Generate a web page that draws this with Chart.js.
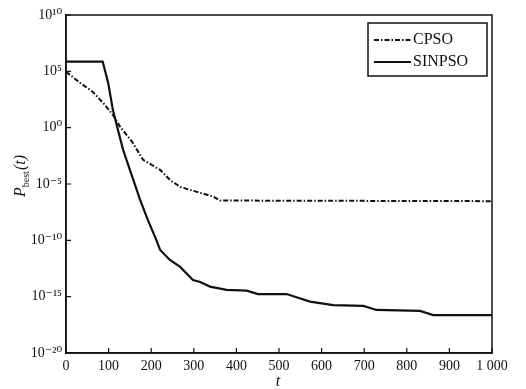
<!DOCTYPE html>
<html>
<head>
<meta charset="utf-8">
<script src="https://cdn.jsdelivr.net/npm/chart.js@4/dist/chart.umd.min.js"></script>
<style>
html,body{margin:0;padding:0;background:#fff;}
#wrap{width:526px;height:389px;position:relative;}
</style>
</head>
<body>
<div id="wrap"><canvas id="c"></canvas></div>
<script>
// iteration t values and best fitness values
const tCPSO = [0, 33, 63, 87, 110, 127, 157, 181, 221, 244, 268, 307, 346, 362, 1000];
const vCPSO = [9.1e4, 9.5e3, 1.5e3, 1.6e2, 1.4e1, 1.2, 4.5e-2, 1.4e-3, 1.8e-4, 2.3e-5, 5.5e-6, 2.0e-6, 7.6e-7, 3.4e-7, 3.0e-7];

const tSINPSO = [0, 86, 99, 110, 122, 134, 150, 174, 192, 209, 221, 244, 268, 298, 315, 338, 377, 424, 451, 518, 541, 573, 627, 698, 729, 831, 862, 1000];
const vSINPSO = [7.4e5, 7.4e5, 9.5e3, 3.8e1, 6.3e-1, 1.1e-2, 1.8e-4, 3.9e-7, 6.5e-9, 2.0e-10, 1.4e-11, 1.8e-12, 4.4e-13, 3.0e-14, 2.0e-14, 7.8e-15, 4.0e-15, 3.4e-15, 1.7e-15, 1.7e-15, 8.9e-16, 3.6e-16, 1.8e-16, 1.5e-16, 6.6e-17, 5.4e-17, 2.3e-17, 2.3e-17];

const seriesNames = ['CPSO', 'SINPSO'];
const xTicks = [0, 100, 200, 300, 400, 500, 600, 700, 800, 900, 1000];
const xTickLabels = ['0', '100', '200', '300', '400', '500', '600', '700', '800', '900', '1 000'];
const yExponents = [-20, -15, -10, -5, 0, 5, 10];

const SUP = {'0':'⁰','1':'¹','2':'²','3':'³','4':'⁴','5':'⁵','6':'⁶','7':'⁷','8':'⁸','9':'⁹','-':'⁻'};
function supText(n){ return String(n).split('').map(ch => SUP[ch]).join(''); }

const INK = '#111';
const SERIF = '"Liberation Serif", "DejaVu Serif", serif';

const frameAndTicks = {
  id: 'frameAndTicks',
  afterDatasetsDraw(chart) {
    const {ctx, chartArea: a, scales} = chart;
    ctx.save();
    ctx.strokeStyle = INK;
    ctx.lineWidth = 1.5;
    ctx.strokeRect(a.left, a.top, a.right - a.left, a.bottom - a.top);
    ctx.lineWidth = 1.2;
    ctx.beginPath();
    scales.x.ticks.forEach(t => {
      const x = scales.x.getPixelForValue(t.value);
      ctx.moveTo(x, a.bottom); ctx.lineTo(x, a.bottom - 5);
    });
    scales.y.ticks.forEach(t => {
      const y = scales.y.getPixelForValue(t.value);
      ctx.moveTo(a.left, y); ctx.lineTo(a.left + 5, y);
    });
    ctx.stroke();

    // legend
    const bx = 368, by = 23, bw = 119, bh = 53;
    ctx.fillStyle = '#fff';
    ctx.fillRect(bx, by, bw, bh);
    ctx.lineWidth = 1.5;
    ctx.strokeRect(bx, by, bw, bh);
    chart.data.datasets.forEach((ds, i) => {
      const y = by + 17 + i * 22;
      ctx.beginPath();
      ctx.setLineDash(ds.borderDash || []);
      ctx.lineWidth = ds.borderWidth;
      ctx.strokeStyle = ds.borderColor;
      ctx.moveTo(bx + 6, y); ctx.lineTo(bx + 43, y);
      ctx.stroke();
      ctx.setLineDash([]);
      ctx.fillStyle = INK;
      ctx.font = '16px ' + SERIF;
      ctx.textBaseline = 'middle';
      ctx.textAlign = 'left';
      ctx.fillText(ds.label, bx + 45, y);
    });

    // axis titles
    ctx.fillStyle = INK;
    ctx.textBaseline = 'alphabetic';
    ctx.font = 'italic 16px ' + SERIF;
    ctx.textAlign = 'center';
    ctx.fillText('t', (a.left + a.right) / 2 - 1, 386);

    ctx.save();
    ctx.translate(25, 197);
    ctx.rotate(-Math.PI / 2);
    ctx.textAlign = 'left';
    let x = 0;
    ctx.font = 'italic 16px ' + SERIF;
    ctx.fillText('P', 0, 0); x += ctx.measureText('P').width;
    ctx.font = '10px ' + SERIF;
    ctx.fillText('best', x, 4); x += ctx.measureText('best').width + 1;
    ctx.font = 'italic 16px ' + SERIF;
    ctx.fillText('(t)', x, 0);
    ctx.restore();

    ctx.restore();
  }
};

new Chart(document.getElementById('c'), {
  type: 'line',
  data: {
    datasets: [
      {
        label: seriesNames[0],
        data: tCPSO.map((t, i) => ({x: t, y: vCPSO[i]})),
        borderColor: INK, borderWidth: 2, borderDash: [5, 2, 1.5, 2],
        pointRadius: 0, tension: 0, fill: false
      },
      {
        label: seriesNames[1],
        data: tSINPSO.map((t, i) => ({x: t, y: vSINPSO[i]})),
        borderColor: INK, borderWidth: 2.2,
        pointRadius: 0, tension: 0, fill: false
      }
    ]
  },
  options: {
    responsive: true,
    maintainAspectRatio: false,
    animation: false,
    layout: {padding: {top: 15, right: 34, left: 0, bottom: 0}},
    plugins: {legend: {display: false}, tooltip: {enabled: false}},
    scales: {
      x: {
        type: 'linear', min: 0, max: 1000,
        afterBuildTicks: s => { s.ticks = xTicks.map(v => ({value: v})); },
        afterFit: s => { s.height = 36; },
        grid: {display: false, drawTicks: false},
        border: {display: true, color: INK, width: 1.5},
        ticks: {
          padding: 5, maxRotation: 0, autoSkip: false,
          color: INK, font: {family: SERIF, size: 14},
          callback: (v) => xTickLabels[xTicks.indexOf(v)]
        }
      },
      y: {
        type: 'logarithmic', min: 1e-20, max: 1e10,
        afterBuildTicks: s => { s.ticks = yExponents.map(e => ({value: Math.pow(10, e)})); },
        afterFit: s => { s.width = 66; },
        grid: {display: false, drawTicks: false},
        border: {display: true, color: INK, width: 1.5},
        ticks: {
          padding: 4, autoSkip: false,
          color: INK, font: {family: SERIF, size: 14},
          callback: (v) => '10' + supText(Math.round(Math.log10(v)))
        }
      }
    }
  },
  plugins: [frameAndTicks]
});
</script>
</body>
</html>
